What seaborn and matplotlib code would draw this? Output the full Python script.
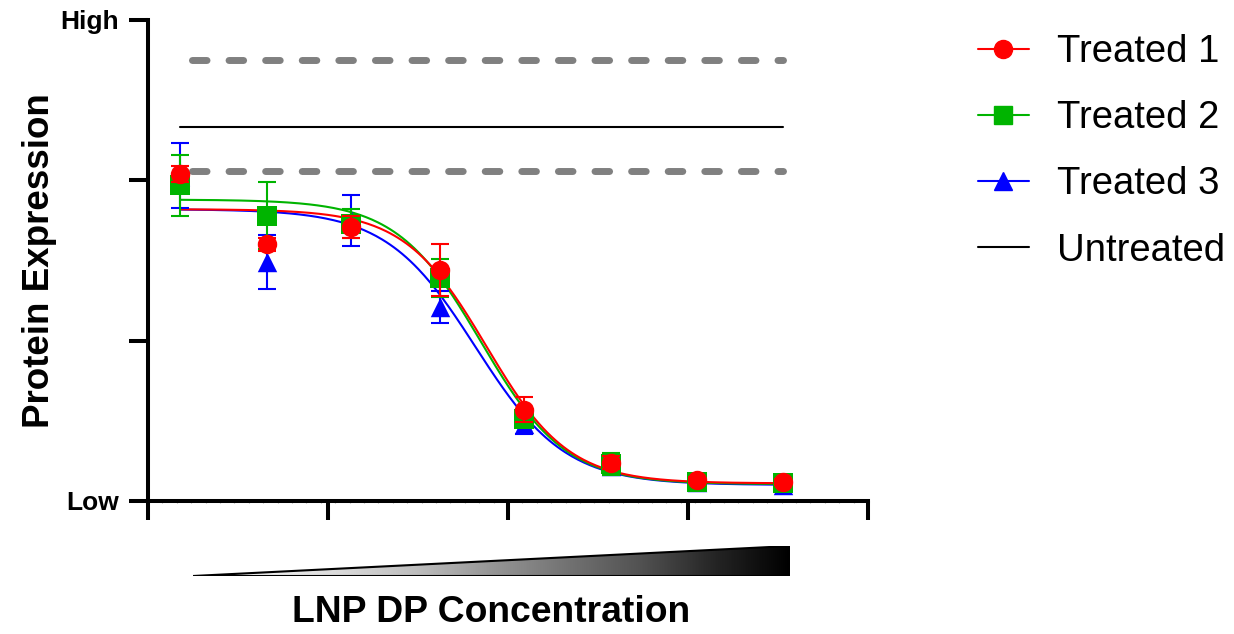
import numpy as np
import pandas as pd
import matplotlib
matplotlib.use("Agg")
import matplotlib.pyplot as plt
from matplotlib.lines import Line2D
from matplotlib.patches import Polygon
from matplotlib.ticker import MultipleLocator
import seaborn as sns

#log10 concentration of each dilution step (the axis carries no numbers)
log_conc = [0.18, 0.66, 1.13, 1.62, 2.09, 2.57, 3.05, 3.53]

#Mean and error of each treated group, in axis units (0 = Low, 3 = High)
treated1 = [2.04, 1.60, 1.71, 1.44, 0.57, 0.24, 0.13, 0.12]
treated1_err = [0.05, 0.04, 0.07, 0.16, 0.08, 0.04, 0.02, 0.02]
treated2 = [1.97, 1.78, 1.73, 1.39, 0.51, 0.23, 0.12, 0.11]
treated2_err = [0.19, 0.21, 0.09, 0.12, 0.05, 0.07, 0.03, 0.03]
treated3 = [2.03, 1.49, 1.75, 1.21, 0.48, 0.22, 0.12, 0.10]
treated3_err = [0.20, 0.17, 0.16, 0.10, 0.06, 0.03, 0.03, 0.03]

#4PL fit parameters: top, bottom, logIC50, hill slope
fit1 = [1.82, 0.11, 1.88, 1.9]
fit2 = [1.88, 0.105, 1.85, 1.85]
fit3 = [1.82, 0.10, 1.82, 1.75]

#Untreated control mean and its range
untreated_mean = 2.33
untreated_band = [2.06, 2.75]

series_names = ["Treated 1", "Treated 2", "Treated 3"]
series_colors = ["#ff0000", "#00b400", "#0000ff"]
series_markers = ["o", "s", "^"]

sns.set_style("ticks")
plt.rcParams['font.family'] = ['Liberation Sans', 'DejaVu Sans']
plt.rcParams['text.color'] = 'black'
plt.rcParams['axes.labelcolor'] = 'black'
plt.rcParams['xtick.color'] = 'black'
plt.rcParams['ytick.color'] = 'black'

fig = plt.figure(figsize=(12.34, 6.34), dpi=100)
ax = fig.add_axes([148 / 1234, 1 - 501 / 634, 720 / 1234, 481 / 634])

#Fitted dose-response curves
def four_pl(x, top, bottom, logic50, hill):
    return bottom + (top - bottom) / (1 + 10 ** ((x - logic50) * hill))

x_fit = np.linspace(log_conc[0], log_conc[-1], 300)
curve_df = pd.concat([
    pd.DataFrame({"x": x_fit, "y": four_pl(x_fit, *p), "series": name})
    for name, p in zip(series_names, [fit1, fit2, fit3])
])
sns.lineplot(data=curve_df, x="x", y="y", hue="series",
             hue_order=series_names[::-1], palette=series_colors[::-1],
             linewidth=1.5, legend=False, ax=ax, zorder=3)

#Untreated reference lines
x_ref = [log_conc[0], log_conc[-1]]
for band in untreated_band:
    ax.plot(x_ref, [band, band], color="#808080", linewidth=5,
            linestyle=(3.55, (2.1, 3.17)), dash_capstyle="round", zorder=2)
ax.plot(x_ref, [untreated_mean, untreated_mean], color="black", linewidth=1.5, zorder=2)

#Data points with error bars, blue at the back and red on top
means = [treated1, treated2, treated3]
errs = [treated1_err, treated2_err, treated3_err]
for i in [2, 1, 0]:
    z = 5 + (2 - i) * 2
    ax.errorbar(log_conc, means[i], yerr=errs[i], fmt="none", ecolor=series_colors[i],
                elinewidth=1.5, capsize=6.8, capthick=1.5, zorder=z)
    sns.scatterplot(x=log_conc, y=means[i], marker=series_markers[i], color=series_colors[i],
                    s=196, linewidth=0, ax=ax, zorder=z + 1)

#Axes styling
ax.set_xlim(0, 4)
ax.set_ylim(0, 3)
ax.set_xticks([0, 1, 2, 3, 4])
ax.set_xticklabels([])
ax.xaxis.set_minor_locator(MultipleLocator(0.08))
ax.set_yticks([0, 1, 2, 3])
ax.set_yticklabels(["Low", "", "", "High"], fontsize=19, fontweight="bold")
ax.tick_params(axis="both", which="major", length=13.7, width=2.9, pad=7.5, color="black")
ax.tick_params(axis="x", which="minor", length=1.5, width=0.8, color="#aaaaaa")
for side in ["top", "right"]:
    ax.spines[side].set_visible(False)
for side in ["left", "bottom"]:
    ax.spines[side].set_linewidth(2.9)
    ax.spines[side].set_color("black")
ax.set_xlabel("")
ax.set_ylabel("Protein Expression", fontsize=26.5, fontweight="bold", labelpad=2)

#Gradient wedge under the x axis
wedge_ax = fig.add_axes([193 / 1234, 1 - 576 / 634, 597 / 1234, 30 / 634])
wedge_ax.set_xlim(0, 1)
wedge_ax.set_ylim(0, 1)
wedge_ax.axis("off")
gradient = np.linspace(0, 1, 256).reshape(1, -1)
img = wedge_ax.imshow(gradient, cmap="Greys", extent=[0, 1, 0, 1], aspect="auto")
tri = Polygon([(0, 0), (1, 0), (1, 1)], closed=True, facecolor="none",
              edgecolor="black", linewidth=1.5)
wedge_ax.add_patch(tri)
img.set_clip_path(tri)

fig.text(491 / 1234, 1 - 613 / 634, "LNP DP Concentration", ha="center", va="center",
         fontsize=26.8, fontweight="bold")

#Legend
handles = [Line2D([], [], color=c, marker=m, markersize=13, linewidth=1.5)
           for c, m in zip(series_colors, series_markers)]
handles.append(Line2D([], [], color="black", linewidth=1.5))
fig.legend(handles, series_names + ["Untreated"], loc="upper left",
           bbox_to_anchor=(978 / 1234, 1 - 34 / 634), frameon=False, fontsize=27.5,
           handlelength=1.33, handletextpad=0.73, labelspacing=0.79,
           borderaxespad=0, borderpad=0)

fig.savefig("out.png", dpi=100)
